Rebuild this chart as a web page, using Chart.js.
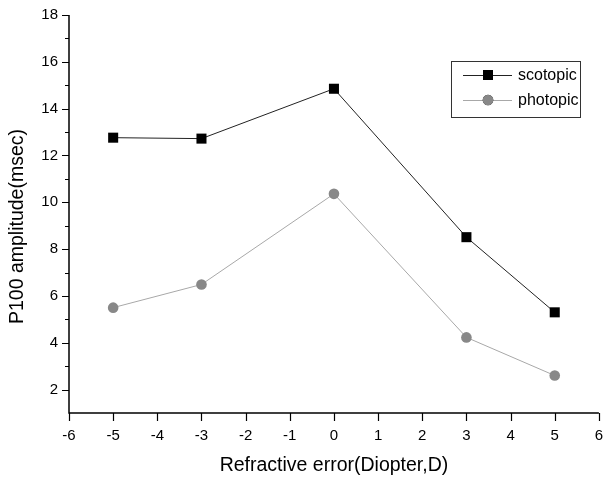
<!DOCTYPE html>
<html>
<head>
<meta charset="utf-8">
<script src="https://cdn.jsdelivr.net/npm/chart.js@4.4.0/dist/chart.umd.min.js"></script>
<style>
html,body{margin:0;padding:0;background:#fff;}
#wrap{width:606px;height:477px;position:relative;}
</style>
</head>
<body>
<div id="wrap"><canvas id="c" width="606" height="477"></canvas></div>
<script>
const diopters = [-5, -3, 0, 3, 5];
const scotopic = [12.76, 12.72, 14.85, 8.51, 5.30];
const photopic = [5.50, 6.49, 10.36, 4.23, 2.60];
const seriesNames = ['scotopic', 'photopic'];
const xTicks = [-6,-5,-4,-3,-2,-1,0,1,2,3,4,5,6];
const yTicks = [2,4,6,8,10,12,14,16,18];
const yMinorTicks = [3,5,7,9,11,13,15,17];
const xTitle = 'Refractive error(Diopter,D)';
const yTitle = 'P100 amplitude(msec)';

const FONT = 'Arial, "Liberation Sans", sans-serif';

const tickPlugin = {
  id: 'tickPlugin',
  afterDraw(chart) {
    const ctx = chart.ctx;
    const xs = chart.scales.x, ys = chart.scales.y;
    const left = ys.right, bottom = xs.top;
    ctx.save();
    ctx.strokeStyle = '#000';
    ctx.lineWidth = 1.5;
    ctx.beginPath();
    ctx.moveTo(left, chart.chartArea.top);
    ctx.lineTo(left, bottom);
    ctx.lineTo(chart.chartArea.right, bottom);
    ctx.stroke();
    ctx.lineWidth = 1.2;
    ctx.beginPath();
    yTicks.forEach(v => { const p = Math.round(ys.getPixelForValue(v)) + 0.5; ctx.moveTo(left - 7, p); ctx.lineTo(left, p); });
    yMinorTicks.forEach(v => { const p = Math.round(ys.getPixelForValue(v)) + 0.5; ctx.moveTo(left - 4, p); ctx.lineTo(left, p); });
    xTicks.forEach(v => { const p = Math.round(xs.getPixelForValue(v)) + 0.5; ctx.moveTo(p, bottom); ctx.lineTo(p, bottom + 8); });
    ctx.stroke();
    // y axis title
    ctx.fillStyle = '#000';
    ctx.font = '19.5px ' + FONT;
    ctx.textAlign = 'center';
    ctx.textBaseline = 'middle';
    ctx.translate(18, 226.5);
    ctx.rotate(-Math.PI / 2);
    ctx.fillText(yTitle, 0, 0);
    ctx.restore();
  }
};

const legendPlugin = {
  id: 'boxLegend',
  afterDraw(chart) {
    const ctx = chart.ctx;
    const bx = 451.5, by = 61.5, bw = 129, bh = 56;
    ctx.save();
    ctx.strokeStyle = '#333';
    ctx.lineWidth = 1;
    ctx.strokeRect(bx, by, bw, bh);
    chart.data.datasets.forEach((ds, i) => {
      const y = 75 + i * 25;
      ctx.strokeStyle = ds.borderColor;
      ctx.lineWidth = 1;
      ctx.beginPath();
      ctx.moveTo(463, y + 0.5); ctx.lineTo(512, y + 0.5); ctx.stroke();
      Chart.helpers.drawPoint(ctx, {
        pointStyle: ds.pointStyle, radius: ds.pointRadius, borderWidth: 0, rotation: 0
      }, 488, y);
      ctx.fillStyle = ds.pointBackgroundColor;
      ctx.fill();
      ctx.fillStyle = '#000';
      ctx.font = '16px ' + FONT;
      ctx.textBaseline = 'middle';
      ctx.textAlign = 'left';
      ctx.fillText(ds.label, 518, y + 1);
    });
    ctx.restore();
  }
};

new Chart(document.getElementById('c'), {
  type: 'line',
  data: {
    datasets: [
      {
        label: seriesNames[0],
        data: diopters.map((x, i) => ({x, y: scotopic[i]})),
        borderColor: '#222',
        borderWidth: 1,
        pointStyle: 'rect',
        pointRadius: 7.1,
        pointBackgroundColor: '#000',
        pointBorderColor: '#000',
        pointBorderWidth: 0,
        tension: 0
      },
      {
        label: seriesNames[1],
        data: diopters.map((x, i) => ({x, y: photopic[i]})),
        borderColor: '#a8a8a8',
        borderWidth: 1,
        pointStyle: 'circle',
        pointRadius: 5.3,
        pointBackgroundColor: '#888',
        pointBorderColor: '#888',
        pointBorderWidth: 0,
        tension: 0
      }
    ]
  },
  options: {
    responsive: false,
    animation: false,
    devicePixelRatio: 1,
    layout: { padding: { top: 15, right: 5, left: 0, bottom: 0 } },
    plugins: { legend: { display: false }, tooltip: { enabled: false } },
    scales: {
      x: {
        type: 'linear', min: -6, max: 6,
        afterBuildTicks: s => { s.ticks = xTicks.map(v => ({value: v})); },
        afterFit: s => { s.height = 64; s.paddingLeft = 0; s.paddingRight = 0; },
        grid: { display: false, drawTicks: false },
        border: { display: false },
        ticks: { color: '#000', font: { family: FONT, size: 15 }, padding: 14, maxRotation: 0, autoSkip: false },
        title: { display: true, text: xTitle, color: '#000', font: { family: FONT, size: 19.5 }, padding: { top: 0, bottom: 0 } }
      },
      y: {
        type: 'linear', min: 1, max: 18,
        afterBuildTicks: s => { s.ticks = yTicks.map(v => ({value: v})); },
        afterFit: s => { s.width = 69; s.paddingTop = 0; s.paddingBottom = 0; },
        grid: { display: false, drawTicks: false },
        border: { display: false },
        ticks: { color: '#000', font: { family: FONT, size: 15 }, padding: 11, autoSkip: false },
        title: { display: false }
      }
    }
  },
  plugins: [tickPlugin, legendPlugin]
});
</script>
</body>
</html>
